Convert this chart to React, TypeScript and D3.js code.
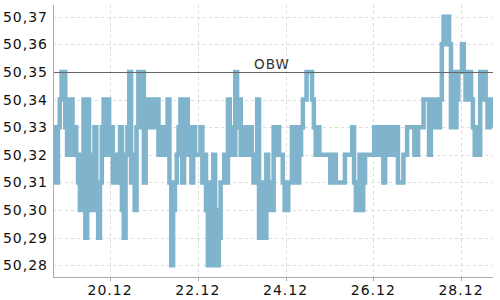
import React from "react";
import * as d3 from "d3";

const START_TIME = "2020-12-18T17:00:00";
const STEP_HOURS = 1;
const DOMAIN_START = "2020-12-18T16:48:00";
const DOMAIN_END = "2020-12-28T17:30:00";

const values: number[] = [
  50.31, 50.33, 50.31, 50.33, 50.34, 50.35, 50.35, 50.33, 50.32, 50.34,
  50.34, 50.32, 50.33, 50.32, 50.31, 50.30, 50.32, 50.34, 50.29, 50.34,
  50.30, 50.32, 50.30, 50.33, 50.31, 50.29, 50.31, 50.33, 50.34, 50.32,
  50.34, 50.32, 50.33, 50.31, 50.32, 50.31, 50.32, 50.33, 50.30, 50.29,
  50.32, 50.33, 50.35, 50.31, 50.32, 50.30, 50.33, 50.35, 50.33, 50.35,
  50.31, 50.34, 50.33, 50.34, 50.33, 50.34, 50.33, 50.34, 50.32, 50.33,
  50.32, 50.33, 50.32, 50.34, 50.31, 50.28, 50.30, 50.31, 50.32, 50.33,
  50.34, 50.31, 50.33, 50.34, 50.32, 50.33, 50.31, 50.33, 50.32, 50.32,
  50.32, 50.33, 50.31, 50.32, 50.30, 50.28, 50.31, 50.28, 50.32, 50.30,
  50.28, 50.29, 50.31, 50.31, 50.32, 50.31, 50.34, 50.32, 50.33, 50.32,
  50.35, 50.33, 50.34, 50.32, 50.33, 50.32, 50.33, 50.32, 50.33, 50.32,
  50.31, 50.32, 50.34, 50.29, 50.31, 50.30, 50.29, 50.32, 50.30, 50.31,
  50.30, 50.33, 50.32, 50.33, 50.32, 50.32, 50.31, 50.30, 50.30, 50.31,
  50.31, 50.33, 50.31, 50.33, 50.31, 50.32, 50.33, 50.34, 50.34, 50.35,
  50.35, 50.35, 50.34, 50.33, 50.32, 50.33, 50.32, 50.32, 50.32, 50.32,
  50.32, 50.32, 50.31, 50.32, 50.32, 50.31, 50.31, 50.31, 50.31, 50.31,
  50.32, 50.32, 50.32, 50.32, 50.33, 50.31, 50.30, 50.30, 50.32, 50.30,
  50.31, 50.32, 50.32, 50.32, 50.32, 50.32, 50.33, 50.32, 50.33, 50.32,
  50.33, 50.31, 50.33, 50.32, 50.33, 50.32, 50.33, 50.32, 50.33, 50.31,
  50.31, 50.31, 50.32, 50.32, 50.33, 50.33, 50.33, 50.33, 50.32, 50.32,
  50.33, 50.33, 50.33, 50.34, 50.34, 50.34, 50.32, 50.33, 50.34, 50.33,
  50.34, 50.33, 50.34, 50.36, 50.37, 50.36, 50.37, 50.36, 50.33, 50.35,
  50.33, 50.34, 50.35, 50.35, 50.36, 50.35, 50.34, 50.34, 50.35, 50.34,
  50.33, 50.32, 50.33, 50.32, 50.35, 50.34, 50.35, 50.34, 50.33, 50.34,
  50.33,
];

const yTicks: number[] = [50.28, 50.29, 50.3, 50.31, 50.32, 50.33, 50.34, 50.35, 50.36, 50.37];
const xTickDates: string[] = ["2020-12-20", "2020-12-22", "2020-12-24", "2020-12-26", "2020-12-28"];
const refValue = 50.35;
const refLabel = "OBW";

const W = 500;
const H = 300;
const L = 53;
const R = 493;
const T = 5;
const B = 277;

export default function App() {
  const start = new Date(START_TIME).getTime();
  const data = values.map((v, i) => ({ t: new Date(start + i * STEP_HOURS * 3600e3), v }));
  const x = d3
    .scaleTime()
    .domain([new Date(DOMAIN_START), new Date(DOMAIN_END)])
    .range([L, R]);
  const y = d3.scaleLinear().domain([50.27576, 50.37424]).range([B, T]);
  const line = d3
    .line<{ t: Date; v: number }>()
    .curve(d3.curveStep)
    .x((d) => x(d.t))
    .y((d) => y(d.v));
  const xTicks = xTickDates.map((s) => new Date(s + "T00:00:00"));
  const fmtY = (v: number) => v.toFixed(2).replace(".", ",");
  const fmtX = d3.timeFormat("%d.%m");
  const font = "DejaVu Sans, sans-serif";

  return (
    <svg
      width={W}
      height={H}
      style={{ position: "absolute", left: 0, top: 0, background: "#fff" }}
    >
      <defs>
        <clipPath id="plot">
          <rect x={L} y={T} width={R - L} height={B - T} />
        </clipPath>
      </defs>
      {yTicks.map((v) => (
        <line
          key={"gy" + v}
          x1={L}
          x2={R}
          y1={Math.round(y(v)) + 0.5}
          y2={Math.round(y(v)) + 0.5}
          stroke="#dcdcdc"
          strokeDasharray="3,3"
        />
      ))}
      {xTicks.map((d) => (
        <line
          key={"gx" + d.getTime()}
          x1={Math.round(x(d)) + 0.5}
          x2={Math.round(x(d)) + 0.5}
          y1={T}
          y2={B}
          stroke="#dcdcdc"
          strokeDasharray="3,3"
        />
      ))}
      <path
        d={line(data) || ""}
        fill="none"
        stroke="#7fb4cc"
        strokeWidth={4.5}
        strokeLinejoin="miter"
        clipPath="url(#plot)"
      />
      <line
        x1={L}
        x2={R}
        y1={Math.round(y(refValue)) + 0.5}
        y2={Math.round(y(refValue)) + 0.5}
        stroke="#666"
        strokeWidth={1}
      />
      <text
        x={272}
        y={y(refValue) - 3}
        textAnchor="middle"
        fontFamily={font}
        fontSize={13.5}
        letterSpacing={1}
        fill="#333"
      >
        {refLabel}
      </text>
      <line x1={L + 0.5} x2={L + 0.5} y1={T} y2={B} stroke="#aaa" />
      <line x1={L} x2={R} y1={B + 0.5} y2={B + 0.5} stroke="#aaa" />
      {xTicks.map((d) => (
        <g key={"xt" + d.getTime()}>
          <line
            x1={Math.round(x(d)) + 0.5}
            x2={Math.round(x(d)) + 0.5}
            y1={B}
            y2={B + 4}
            stroke="#aaa"
          />
          <text
            x={x(d)}
            y={295}
            textAnchor="middle"
            fontFamily={font}
            fontSize={14}
            letterSpacing={1}
            fill="#111"
          >
            {fmtX(d)}
          </text>
        </g>
      ))}
      {yTicks.map((v) => (
        <text
          key={"yt" + v}
          x={48}
          y={y(v) + 5}
          textAnchor="end"
          fontFamily={font}
          fontSize={14}
          letterSpacing={1}
          fill="#111"
        >
          {fmtY(v)}
        </text>
      ))}
    </svg>
  );
}
